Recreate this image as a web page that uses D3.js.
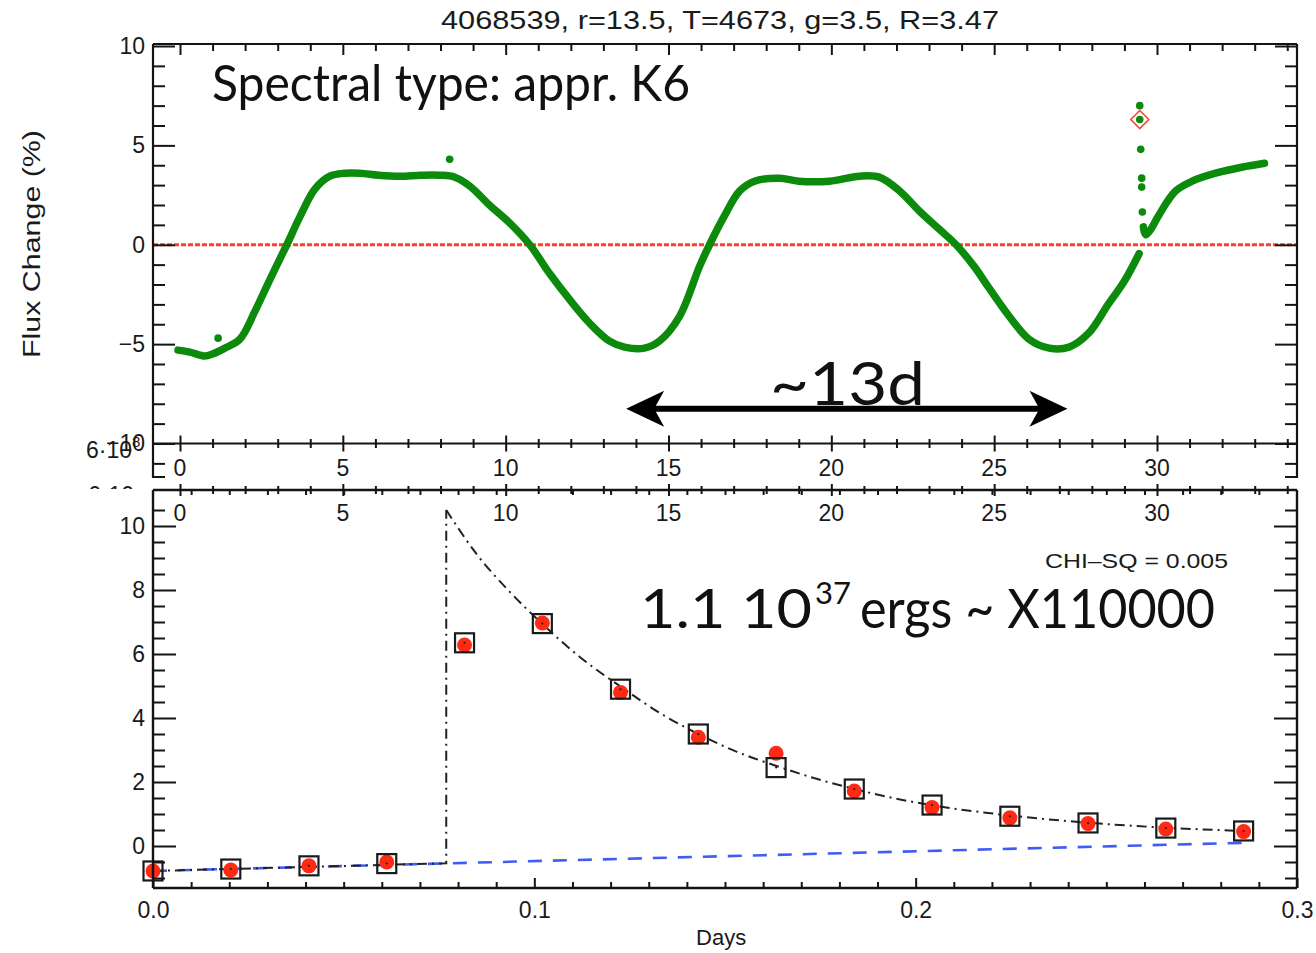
<!DOCTYPE html>
<html>
<head>
<meta charset="utf-8">
<script src="https://cdn.jsdelivr.net/npm/d3@7"></script>
<style>
  body { margin: 0; background: #fff; }
  svg text { font-family: "Liberation Sans", Arial, Helvetica, sans-serif; fill: #1a1a1a; }
  svg text.big { font-family: Lato, "Open Sans", sans-serif; fill: #111; }
</style>
</head>
<body>
<svg id="chart" width="1316" height="953"></svg>
<script>
// ---------- Top panel: Kepler light curve (days, flux change in %) ----------
const lcDays = [-0.06, 0.3, 0.77, 1.0, 1.38, 1.84, 2.3, 2.76, 3.28, 3.68, 4.14, 4.6, 5.06, 5.52,
  6.1, 6.75, 7.4, 7.98, 8.44, 8.9, 9.5, 10.12, 10.74, 11.35, 11.96, 12.58, 13.19, 13.65, 14.26,
  14.72, 15.34, 15.95, 16.26, 16.7, 17.18, 17.64, 18.4, 19.0, 19.94, 20.86, 21.47, 22.1, 22.7,
  23.3, 23.83, 24.39, 24.85, 25.46, 26.07, 26.69, 27.3, 27.9, 28.5, 28.99, 29.45];
const lcFlux = [-5.3, -5.4, -5.6, -5.5, -5.2, -4.75, -3.35, -1.75, 0, 1.4, 2.8, 3.45, 3.6, 3.6,
  3.5, 3.45, 3.5, 3.5, 3.4, 2.95, 2.0, 1.1, 0, -1.45, -2.75, -3.95, -4.85, -5.15, -5.2,
  -4.85, -3.6, -1.1, 0, 1.4, 2.7, 3.2, 3.35, 3.2, 3.2, 3.45, 3.4, 2.7, 1.7,
  0.8, 0, -1.1, -2.2, -3.6, -4.75, -5.2, -5.15, -4.45, -3.0, -1.85, -0.45];
// recovery after the flare
const postDays = [29.58, 29.65, 29.8, 30.06, 30.57, 31.08, 31.8, 32.6, 33.3];
const postFlux = [0.9, 0.5, 0.75, 1.5, 2.7, 3.2, 3.6, 3.9, 4.1];
// isolated flare cadences and small spikes
const flareDays = [29.47, 29.47, 29.5, 29.53, 29.53, 29.55];
const flareFlux = [7.0, 6.3, 4.8, 3.35, 2.9, 1.65];
const spikeDays = [1.17, 8.28];
const spikeFlux = [-4.7, 4.3];
const peakDay = 29.47, peakFlux = 6.3;
const zeroDays = [-0.83, 34.26];
const periodArrow = { from: 13.7, to: 27.25, level: -8.25 };

const dayTicks = [0, 5, 10, 15, 20, 25, 30];
const fluxTicks = [-10, -5, 0, 5, 10];

// ---------- Bottom panel: flare fit (days since start, flux) ----------
const cadence = [0, 0.0204, 0.0409, 0.0613, 0.0817, 0.1021, 0.1226, 0.143, 0.1634, 0.1839,
  0.2043, 0.2247, 0.2452, 0.2656, 0.286];
const observed = [-0.78, -0.75, -0.62, -0.5, 6.28, 6.97, 4.8, 3.4, 2.9, 1.72, 1.2, 0.88, 0.7, 0.53, 0.45];
const model = [-0.78, -0.72, -0.62, -0.55, 6.35, 6.95, 4.9, 3.5, 2.45, 1.78, 1.28, 0.93, 0.72, 0.56, 0.47];
const riseDays = [0, 0.0769, 0.0769];
const riseFlux = [-0.78, -0.54, 10.5];
const decayDays = [0.0769, 0.085, 0.0935, 0.102, 0.112, 0.123, 0.133, 0.143, 0.153, 0.1635,
  0.174, 0.184, 0.194, 0.204, 0.225, 0.245, 0.266, 0.286];
const decayFlux = [10.5, 9.1, 7.95, 6.95, 5.9, 4.95, 4.15, 3.5, 2.95, 2.5,
  2.1, 1.78, 1.5, 1.28, 0.95, 0.73, 0.57, 0.47];
const baseDays = [0, 0.286];
const baseFlux = [-0.78, 0.1];
const fitTicks = [0, 0.1, 0.2, 0.3];
const fitYTicks = [0, 2, 4, 6, 8, 10];

const svg = d3.select("#chart");
const INK = "#141414";
const GREEN = "#0b8a0b", RED = "#ff2a14", BLUE = "#3f5cf5";

// frames
const L = 153, R = 1297;
const topFrame = { top: 44, bottom: 478 };
const botFrame = { top: 490, bottom: 888 };

// scales
const xDay = d3.scaleLinear().domain([0, 30]).range([180, 1157]);
const yTop = d3.scaleLinear().domain([-10, 10]).range([443.5, 46]);
const xFit = d3.scaleLinear().domain([0, 0.3]).range([L, R]);
const yFit = d3.scaleLinear().domain([0, 10]).range([846, 526]);

// ---------------- TOP PANEL ----------------
const gTop = svg.append("g");

// zero reference (dotted red)
gTop.append("line")
  .attr("x1", xDay(zeroDays[0])).attr("x2", xDay(zeroDays[1]))
  .attr("y1", yTop(0)).attr("y2", yTop(0))
  .attr("stroke", RED).attr("stroke-width", 3).attr("stroke-dasharray", "5,2").attr("opacity", 0.9);

const lcLine = d3.line().x(d => xDay(d[0])).y(d => yTop(d[1])).curve(d3.curveCatmullRom.alpha(0.5));
gTop.append("path").datum(d3.zip(lcDays, lcFlux))
  .attr("d", lcLine).attr("fill", "none").attr("stroke", GREEN)
  .attr("stroke-width", 7.5).attr("stroke-linecap", "round").attr("stroke-linejoin", "round");
gTop.append("path").datum(d3.zip(postDays, postFlux))
  .attr("d", lcLine).attr("fill", "none").attr("stroke", GREEN)
  .attr("stroke-width", 7.5).attr("stroke-linecap", "round").attr("stroke-linejoin", "round");
gTop.selectAll("circle.flare").data(d3.zip(flareDays.concat(spikeDays), flareFlux.concat(spikeFlux)))
  .join("circle").attr("class", "flare")
  .attr("cx", d => xDay(d[0])).attr("cy", d => yTop(d[1])).attr("r", 3.8).attr("fill", GREEN);

// peak marker
const px = xDay(peakDay), py = yTop(peakFlux);
gTop.append("path")
  .attr("d", `M${px},${py - 9}L${px + 9},${py}L${px},${py + 9}L${px - 9},${py}Z`)
  .attr("fill", "none").attr("stroke", "#f24a3a").attr("stroke-width", 1.6);

// frame lines
gTop.append("line").attr("x1", L).attr("x2", R).attr("y1", topFrame.top).attr("y2", topFrame.top)
  .attr("stroke", INK).attr("stroke-width", 2.2);
gTop.append("line").attr("x1", L).attr("x2", L).attr("y1", topFrame.top).attr("y2", topFrame.bottom)
  .attr("stroke", INK).attr("stroke-width", 2.2);
gTop.append("line").attr("x1", R).attr("x2", R).attr("y1", topFrame.top).attr("y2", topFrame.bottom)
  .attr("stroke", INK).attr("stroke-width", 2.2);
gTop.append("line").attr("x1", L).attr("x2", R).attr("y1", yTop(-10)).attr("y2", yTop(-10))
  .attr("stroke", INK).attr("stroke-width", 2.2);
[L, R].forEach((x, i) => gTop.append("line")
  .attr("x1", x).attr("x2", i ? x - 12 : x + 12).attr("y1", topFrame.bottom - 1).attr("y2", topFrame.bottom - 1)
  .attr("stroke", INK).attr("stroke-width", 2));

function styleAxis(g) {
  g.select(".domain").remove();
  g.selectAll(".tick line").attr("stroke", INK).attr("stroke-width", 2);
  g.selectAll(".tick text").attr("font-size", 23).attr("fill", "#1a1a1a");
}

const fluxMinor = d3.range(-11, 10).filter(v => v % 5 !== 0);
const dayMinor = d3.range(0, 35).filter(v => v % 5 !== 0);

// left axis
gTop.append("g").attr("transform", `translate(${L},0)`)
  .call(d3.axisLeft(yTop).tickValues(fluxTicks).tickSize(-22).tickPadding(8).tickFormat(d3.format("d")))
  .call(styleAxis);
gTop.append("g").attr("transform", `translate(${L},0)`)
  .call(d3.axisLeft(yTop).tickValues(fluxMinor).tickSize(-12).tickFormat(""))
  .call(styleAxis);
// right axis
gTop.append("g").attr("transform", `translate(${R},0)`)
  .call(d3.axisRight(yTop).tickValues(fluxTicks).tickSize(-22).tickFormat(""))
  .call(styleAxis);
gTop.append("g").attr("transform", `translate(${R},0)`)
  .call(d3.axisRight(yTop).tickValues(fluxMinor).tickSize(-12).tickFormat(""))
  .call(styleAxis);
// top axis (ticks only)
gTop.append("g").attr("transform", `translate(0,${topFrame.top})`)
  .call(d3.axisTop(xDay).tickValues(dayTicks).tickSize(-11).tickFormat(""))
  .call(styleAxis);
gTop.append("g").attr("transform", `translate(0,${topFrame.top})`)
  .call(d3.axisTop(xDay).tickValues(dayMinor).tickSize(-7).tickFormat(""))
  .call(styleAxis);
// day axis across the -10 level (ticks cross the line)
const dayAxisY = yTop(-10);
gTop.append("g").attr("transform", `translate(0,${dayAxisY + 8})`)
  .call(d3.axisTop(xDay).tickValues(dayTicks).tickSize(16).tickPadding(0).tickFormat(""))
  .call(styleAxis);
gTop.append("g").attr("transform", `translate(0,${dayAxisY + 4.5})`)
  .call(d3.axisTop(xDay).tickValues(dayMinor).tickSize(9).tickFormat(""))
  .call(styleAxis);
gTop.selectAll("text.daylbl").data(dayTicks).join("text").attr("class", "daylbl")
  .attr("x", d => xDay(d)).attr("y", dayAxisY + 32).attr("text-anchor", "middle")
  .attr("font-size", 23).text(d => d);

// stray exponent label under the panel corner
const lbl = gTop.append("text").attr("x", 86).attr("y", 458).attr("font-size", 23).attr("fill", "#1a1a1a");
lbl.append("tspan").text("6·10");
lbl.append("tspan").attr("font-size", 15).attr("dy", -11).text("8");
svg.append("clipPath").attr("id", "cut").append("rect").attr("x", 60).attr("y", 482).attr("width", 100).attr("height", 7);
svg.append("text").attr("clip-path", "url(#cut)").attr("x", 88).attr("y", 503).attr("font-size", 23)
  .attr("fill", "#333").text("6·10");

// period arrow
const ax1 = xDay(periodArrow.from), ax2 = xDay(periodArrow.to), ay = yTop(periodArrow.level);
gTop.append("line").attr("x1", ax1 + 20).attr("x2", ax2 - 20).attr("y1", ay).attr("y2", ay)
  .attr("stroke", "#000").attr("stroke-width", 6);
gTop.append("path")
  .attr("d", `M${ax1},${ay}L${ax1 + 38},${ay - 18}L${ax1 + 28},${ay}L${ax1 + 38},${ay + 18}Z`)
  .attr("fill", "#000");
gTop.append("path")
  .attr("d", `M${ax2},${ay}L${ax2 - 38},${ay - 18}L${ax2 - 28},${ay}L${ax2 - 38},${ay + 18}Z`)
  .attr("fill", "#000");

// texts
svg.append("text").attr("x", 441).attr("y", 29).attr("font-size", 25)
  .attr("textLength", 558).attr("lengthAdjust", "spacingAndGlyphs")
  .text("4068539, r=13.5, T=4673, g=3.5, R=3.47");
svg.append("text").attr("class", "big").attr("x", 212).attr("y", 101).attr("font-size", 50)
  .attr("textLength", 478).attr("lengthAdjust", "spacingAndGlyphs")
  .text("Spectral type: appr. K6");
svg.append("text").attr("class", "big").attr("x", 770).attr("y", 405).attr("font-size", 60)
  .attr("textLength", 155).attr("lengthAdjust", "spacingAndGlyphs")
  .text("~13d");
svg.append("text").attr("transform", "translate(40,244) rotate(-90)").attr("text-anchor", "middle")
  .attr("font-size", 23).attr("textLength", 228).attr("lengthAdjust", "spacingAndGlyphs")
  .text("Flux Change (%)");

// ---------------- BOTTOM PANEL ----------------
const gBot = svg.append("g");

// baseline (blue dashed)
gBot.append("path").datum(d3.zip(baseDays, baseFlux))
  .attr("d", d3.line().x(d => xFit(d[0])).y(d => yFit(d[1])))
  .attr("fill", "none").attr("stroke", BLUE).attr("stroke-width", 2.6).attr("stroke-dasharray", "14,11");
// fitted flare model (dash-dot)
gBot.append("path").datum(d3.zip(riseDays, riseFlux))
  .attr("d", d3.line().x(d => xFit(d[0])).y(d => yFit(d[1])))
  .attr("fill", "none").attr("stroke", "#222").attr("stroke-width", 2).attr("stroke-dasharray", "10,5,2,5");
gBot.append("path").datum(d3.zip(decayDays, decayFlux))
  .attr("d", d3.line().x(d => xFit(d[0])).y(d => yFit(d[1])).curve(d3.curveMonotoneX))
  .attr("fill", "none").attr("stroke", "#222").attr("stroke-width", 2).attr("stroke-dasharray", "10,5,2,5");

// observed points (red) and binned model (squares)
gBot.selectAll("circle.obs").data(d3.zip(cadence, observed)).join("circle").attr("class", "obs")
  .attr("cx", d => xFit(d[0])).attr("cy", d => yFit(d[1])).attr("r", 7.5).attr("fill", RED);
gBot.selectAll("rect.mod").data(d3.zip(cadence, model)).join("rect").attr("class", "mod")
  .attr("x", d => xFit(d[0]) - 9.5).attr("y", d => yFit(d[1]) - 9.5).attr("width", 19).attr("height", 19)
  .attr("fill", "none").attr("stroke", "#1a1a1a").attr("stroke-width", 2.2);
gBot.selectAll("circle.modc").data(d3.zip(cadence, model)).join("circle").attr("class", "modc")
  .attr("cx", d => xFit(d[0])).attr("cy", d => yFit(d[1])).attr("r", 1).attr("fill", "#1a1a1a");

// frame
[[L, botFrame.top, R, botFrame.top], [L, botFrame.bottom, R, botFrame.bottom],
 [L, botFrame.top, L, botFrame.bottom], [R, botFrame.top, R, botFrame.bottom]].forEach(s =>
  gBot.append("line").attr("x1", s[0]).attr("y1", s[1]).attr("x2", s[2]).attr("y2", s[3])
    .attr("stroke", INK).attr("stroke-width", 2.4));

const fitYMinor = d3.range(-1, 11, 0.5).filter(v => v % 2 !== 0);
const fitXMinor = d3.range(0, 0.301, 0.01).filter(v => Math.abs(v * 10 - Math.round(v * 10)) > 1e-6);

gBot.append("g").attr("transform", `translate(${L},0)`)
  .call(d3.axisLeft(yFit).tickValues(fitYTicks).tickSize(-23).tickPadding(8).tickFormat(d3.format("d")))
  .call(styleAxis);
gBot.append("g").attr("transform", `translate(${L},0)`)
  .call(d3.axisLeft(yFit).tickValues(fitYMinor).tickSize(-12).tickFormat(""))
  .call(styleAxis);
gBot.append("g").attr("transform", `translate(${R},0)`)
  .call(d3.axisRight(yFit).tickValues(fitYTicks).tickSize(-23).tickFormat(""))
  .call(styleAxis);
gBot.append("g").attr("transform", `translate(${R},0)`)
  .call(d3.axisRight(yFit).tickValues(fitYMinor).tickSize(-12).tickFormat(""))
  .call(styleAxis);
gBot.append("g").attr("transform", `translate(0,${botFrame.bottom})`)
  .call(d3.axisBottom(xFit).tickValues(fitTicks).tickSize(-10).tickPadding(14).tickFormat(d3.format(".1f")))
  .call(styleAxis);
gBot.append("g").attr("transform", `translate(0,${botFrame.bottom})`)
  .call(d3.axisBottom(xFit).tickValues(fitXMinor).tickSize(-6).tickFormat(""))
  .call(styleAxis);
// top edge: both time scales
gBot.append("g").attr("transform", `translate(0,${botFrame.top})`)
  .call(d3.axisTop(xFit).tickValues(fitXMinor).tickSize(-5).tickFormat(""))
  .call(styleAxis);
gBot.append("g").attr("transform", `translate(0,${botFrame.top + 4})`)
  .call(d3.axisTop(xDay).tickValues(dayMinor).tickSize(8).tickFormat(""))
  .call(styleAxis);
gBot.append("g").attr("transform", `translate(0,${botFrame.top + 6})`)
  .call(d3.axisTop(xDay).tickValues(dayTicks).tickSize(12).tickFormat(""))
  .call(styleAxis);
gBot.selectAll("text.daylbl2").data(dayTicks).join("text").attr("class", "daylbl2")
  .attr("x", d => xDay(d)).attr("y", botFrame.top + 31).attr("text-anchor", "middle")
  .attr("font-size", 23).text(d => d);

// axis title and annotations
svg.append("text").attr("x", xFit(0.149)).attr("y", 945).attr("text-anchor", "middle")
  .attr("font-size", 22).text("Days");
svg.append("text").attr("x", 1228).attr("y", 568).attr("text-anchor", "end").attr("font-size", 21)
  .attr("textLength", 183).attr("lengthAdjust", "spacingAndGlyphs").text("CHI–SQ = 0.005");
const en = svg.append("text").attr("class", "big").attr("x", 640).attr("y", 628).attr("font-size", 54);
en.append("tspan").attr("textLength", 172).attr("lengthAdjust", "spacingAndGlyphs").text("1.1 10");
en.append("tspan").attr("x", 815).attr("font-size", 31).attr("dy", -24).text("37");
en.append("tspan").attr("x", 860).attr("dy", 24).attr("textLength", 355).attr("lengthAdjust", "spacingAndGlyphs")
  .text("ergs ~ X110000");
</script>
</body>
</html>
